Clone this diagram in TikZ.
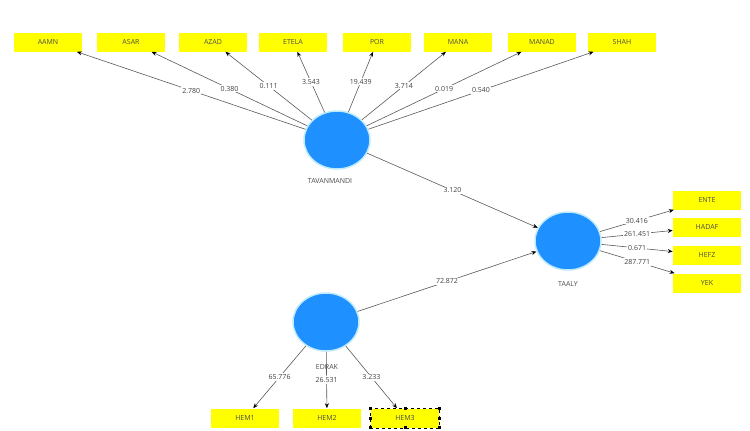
\documentclass[tikz,border=0pt]{standalone}
\usepackage{fontspec}
\setmainfont{Open Sans}
\usetikzlibrary{shapes.geometric,arrows.meta}
\definecolor{plsblue}{RGB}{30,144,255}
\definecolor{plsyellow}{RGB}{255,255,0}
\begin{document}
\begin{tikzpicture}[x=1pt,y=-1pt,line width=0.6pt]
          \tikzstyle{every node}=[font=\fontsize{7}{8}\selectfont]
          \tikzstyle{ind}=[fill=plsyellow, minimum width=68pt, minimum height=19pt, inner sep=0pt, text=black!70]
          \tikzstyle{lat}=[ellipse, fill=plsblue, draw=cyan!25, line width=1.5pt, minimum width=66pt, minimum height=58pt]
          \tikzstyle{lbl}=[fill=white, inner sep=1pt, text=black!75]
          \tikzstyle{path}=[-{Stealth[black,length=5pt,width=4pt]}, draw=black!65]
          \useasboundingbox (0,0) rectangle (750,431);
            % latent variables
            \node[lat] (tav) at (337, 140) {};
            \node[lat] (taaly) at (568, 241) {};
            \node[lat] (edrak) at (326, 322) {};
            \node[text=black!70] (tavname) at (330, 181) {TAVANMANDI};
            \node[text=black!70] (taalyname) at (568, 284) {TAALY};
            \node[text=black!70] (edrakname) at (327, 367) {EDRAK};
            % indicators
            \node[ind] (aamn) at (48, 42) {AAMN};
            \node[ind] (asar) at (131, 42) {ASAR};
            \node[ind] (azad) at (213, 42) {AZAD};
            \node[ind] (etela) at (293, 42) {ETELA};
            \node[ind] (por) at (377, 42) {POR};
            \node[ind] (mana) at (458, 42) {MANA};
            \node[ind] (manad) at (542, 42) {MANAD};
            \node[ind] (shah) at (622, 42) {SHAH};
            \node[ind] (ente) at (707, 200) {ENTE};
            \node[ind] (hadaf) at (707, 227) {HADAF};
            \node[ind] (hefz) at (707, 255) {HEFZ};
            \node[ind] (yek) at (707, 283) {YEK};
            \node[ind] (hem1) at (245, 418) {HEM1};
            \node[ind] (hem2) at (327, 418) {HEM2};
            \node[ind] (hem3) at (405, 418) {HEM3};

            \draw[dashed] (hem3.south west) rectangle (hem3.north east);
            \foreach \a in {north west,north,north east,east,south east,south,south west,west}
              \fill (hem3.\a) +(-1.5,-1.5) rectangle +(1.5,1.5);

            \draw[path] (tav) -- node[lbl] {2.780} (aamn);
            \draw[path] (tav) -- node[lbl] {0.380} (asar);
            \draw[path] (tav) -- node[lbl] {0.111} (azad);
            \draw[path] (tav) -- node[lbl] {3.543} (etela);
            \draw[path] (tav) -- node[lbl] {19.439} (por);
            \draw[path] (tav) -- node[lbl] {3.714} (mana);
            \draw[path] (tav) -- node[lbl] {0.019} (manad);
            \draw[path] (tav) -- node[lbl] {0.540} (shah);

            \draw[path] (taaly) -- node[lbl] {30.416} (ente);
            \draw[path] (taaly) -- node[lbl] {261.451} (hadaf);
            \draw[path] (taaly) -- node[lbl] {0.671} (hefz);
            \draw[path] (taaly) -- node[lbl] {287.771} (yek);

            \draw[path] (edrak) -- node[lbl] {65.776} (hem1);
            \draw[path] (edrak) -- node[lbl] {26.531} (hem2);
            \draw[path] (edrak) -- node[lbl] {3.233} (hem3);

            \draw[path] (tav) -- node[lbl] {3.120} (taaly);
            \draw[path] (edrak) -- node[lbl] {72.872} (taaly);
        \end{tikzpicture}
\end{document}
